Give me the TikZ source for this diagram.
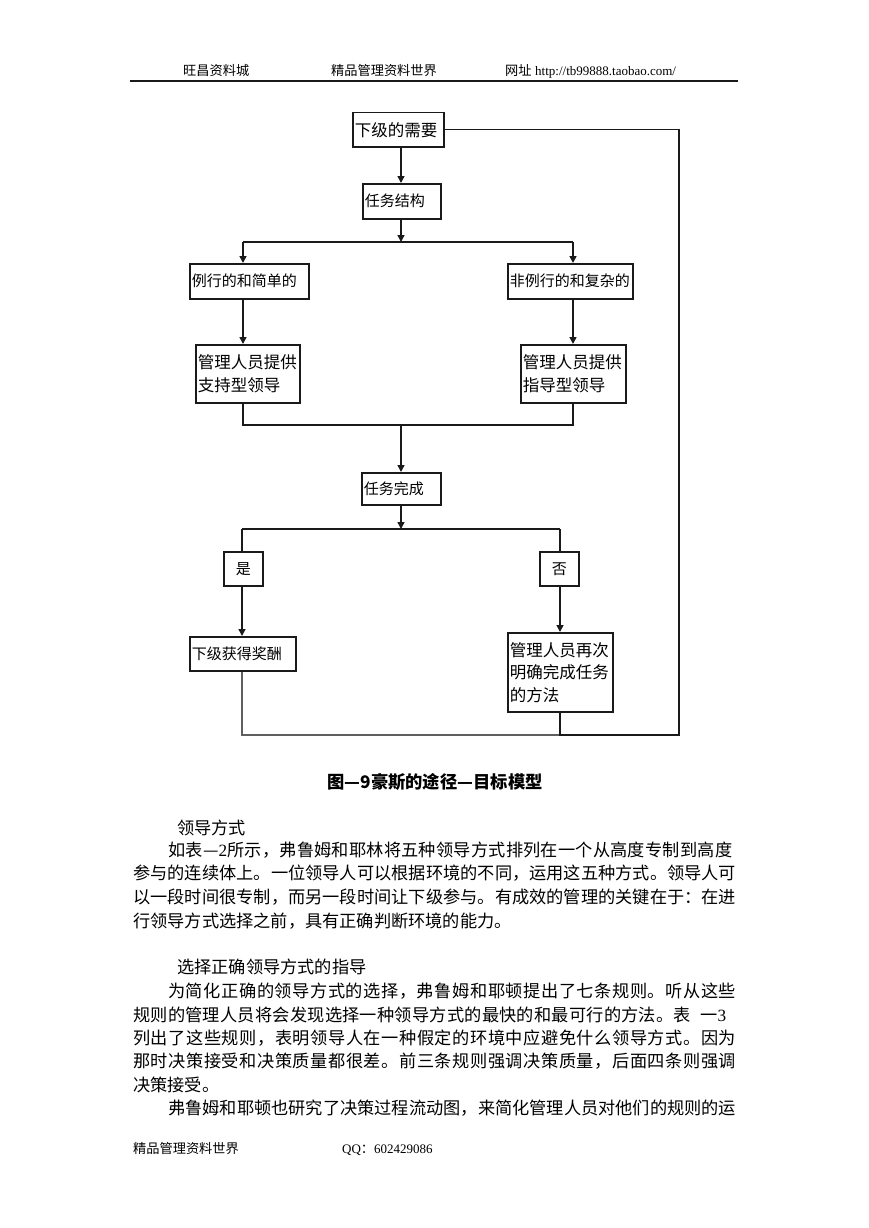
\documentclass[tikz,border=0pt]{standalone}
\usepackage{fontspec}
\setmainfont{Liberation Serif}
\newfontfamily\cjk{Noto Sans CJK SC}
\usetikzlibrary{arrows.meta}
\definecolor{ink}{HTML}{1A1A1A}
\ExplSyntaxOn
\NewDocumentCommand \justline { m m }
  { \hbox_to_wd:nn {#1} { \tl_map_inline:nn {#2} { {##1} \hfil } \unskip } }
\ExplSyntaxOff
\begin{document}
\begin{tikzpicture}[x=1pt,y=-1pt,
  box/.style={draw=ink, line width=1.5pt, inner xsep=2pt, inner ysep=0pt, align=left,
    anchor=north west, font=\cjk\fontsize{15}{22}\selectfont},
  bigbox/.style={box, font=\cjk\fontsize{16.5}{22.5}\selectfont},
  line/.style={draw=ink, line width=1.5pt},
  thinline/.style={draw=ink!70, line width=1.1pt},
  arr/.style={line, -{Triangle[width=7pt,length=7pt]}},
  txt/.style={anchor=base west, inner sep=0pt, font=\cjk\fontsize{17.2}{20}\selectfont},
  small/.style={anchor=base west, inner sep=0pt, font=\cjk\fontsize{13.2}{16}\selectfont}
]
\fill[white] (0,0) rectangle (868,1228);
\useasboundingbox (0,0) rectangle (868,1228);

% header
\node[small] (h1) at (183,76) {旺昌资料城};
\node[small] (h2) at (331,76) {精品管理资料世界};
\node[small] (h3) at (505,76) {网址};
\node[small] (h4) at (535,76) {\rmfamily\fontsize{13}{16}\selectfont http://tb99888.taobao.com/};
\draw[ink, line width=1.3pt] (130,81) -- (738,81);

% flowchart boxes
\node[bigbox, text width=87, minimum height=34] (n1) at (352,112) {下级的需要};
\node[box, text width=74, minimum height=35] (n2) at (362,183) {任务结构};
\node[box, text width=115, minimum height=35] (n3) at (189,263) {例行的和简单的};
\node[box, text width=121, minimum height=35] (n4) at (507,263) {非例行的和复杂的};
\node[bigbox, text width=100, minimum height=58] (n5) at (195,344) {管理人员提供\\支持型领导};
\node[bigbox, text width=101, minimum height=58] (n6) at (520,344) {管理人员提供\\指导型领导};
\node[box, text width=75, minimum height=32] (n7) at (361,472) {任务完成};
\node[box, align=center, text width=35, minimum height=34] (n8) at (223,551) {是};
\node[box, align=center, text width=35, minimum height=34] (n9) at (539,551) {否};
\node[box, text width=102, minimum height=34] (n10) at (189,636) {下级获得奖酬};
\node[bigbox, text width=101, minimum height=79] (n11) at (507,632) {管理人员再次\\明确完成任务\\的方法};

% junctions
\coordinate (j1) at (401,242); \coordinate (j1l) at (243,242); \coordinate (j1r) at (573,242);
\coordinate (j2) at (401,425); \coordinate (j2l) at (243,425); \coordinate (j2r) at (573,425);
\coordinate (j3) at (401,529); \coordinate (j3l) at (242,529); \coordinate (j3r) at (560,529);
\coordinate (j4l) at (242,735); \coordinate (j4m) at (560,735); \coordinate (j4r) at (679,735);

% connectors
\draw[arr] (n1.south -| j1) -- (n2.north -| j1);
\draw[arr] (n2.south -| j1) -- (j1);
\draw[line] (j1l) -- (j1r);
\draw[arr] (j1l) -- (n3.north -| j1l);
\draw[arr] (j1r) -- (n4.north -| j1r);
\draw[arr] (n3.south -| j1l) -- (n5.north -| j1l);
\draw[arr] (n4.south -| j1r) -- (n6.north -| j1r);
\draw[line] (n5.south -| j2l) -- (j2l) -- (j2r) -- (n6.south -| j2r);
\draw[arr] (j2) -- (n7.north -| j2);
\draw[arr] (n7.south -| j3) -- (j3);
\draw[line] (j3l) -- (j3r);
\draw[line] (j3l) -- (n8.north -| j3l);
\draw[line] (j3r) -- (n9.north -| j3r);
\draw[arr] (n8.south -| j3l) -- (n10.north -| j3l);
\draw[arr] (n9.south -| j3r) -- (n11.north -| j3r);
\draw[thinline] (n10.south -| j4l) -- (j4l) -- (j4m);
\draw[line] (n11.south -| j4m) -- (j4m) -- (j4r) -- (n1.east -| j4r) -- (n1.east);

% caption
\node[anchor=base, inner sep=0pt, font=\cjk\bfseries\fontsize{17.3}{20}\selectfont] (cap) at (435,788.5) {图—9豪斯的途径—目标模型};

% body text
\node[txt] (t1) at (177,834.5) {领导方式};
\node[txt] (t2) at (168,856.5) {\justline{564pt}{如表—{\rmfamily 2}所示，弗鲁姆和耶林将五种领导方式排列在一个从高度专制到高度}};
\node[txt] (t3) at (133,879.5) {\justline{603pt}{参与的连续体上。一位领导人可以根据环境的不同，运用这五种方式。领导人可}};
\node[txt] (t4) at (133,903.5) {\justline{603pt}{以一段时间很专制，而另一段时间让下级参与。有成效的管理的关键在于：在进}};
\node[txt] (t5) at (133,927.5) {行领导方式选择之前，具有正确判断环境的能力。};

\node[txt] (t6) at (177,973.5) {选择正确领导方式的指导};
\node[txt] (t7) at (168,997.5) {\justline{568pt}{为简化正确的领导方式的选择，弗鲁姆和耶顿提出了七条规则。听从这些}};
\node[txt] (t8) at (133,1021) {\justline{593pt}{规则的管理人员将会发现选择一种领导方式的最快的和最可行的方法。表{\hspace{0.5em}}一{\rmfamily 3}}};
\node[txt] (t9) at (133,1044.5) {\justline{603pt}{列出了这些规则，表明领导人在一种假定的环境中应避免什么领导方式。因为}};
\node[txt] (t10) at (133,1067.5) {\justline{603pt}{那时决策接受和决策质量都很差。前三条规则强调决策质量，后面四条则强调}};
\node[txt] (t11) at (133,1091) {决策接受。};
\node[txt] (t12) at (168,1114.5) {\justline{568pt}{弗鲁姆和耶顿也研究了决策过程流动图，来简化管理人员对他们的规则的运}};

% footer
\node[small] (f1) at (133,1153) {精品管理资料世界};
\node[small] (f2) at (342,1153) {{\rmfamily\fontsize{13}{16}\selectfont QQ}：{\rmfamily\fontsize{13}{16}\selectfont 602429086}};
\end{tikzpicture}
\end{document}
